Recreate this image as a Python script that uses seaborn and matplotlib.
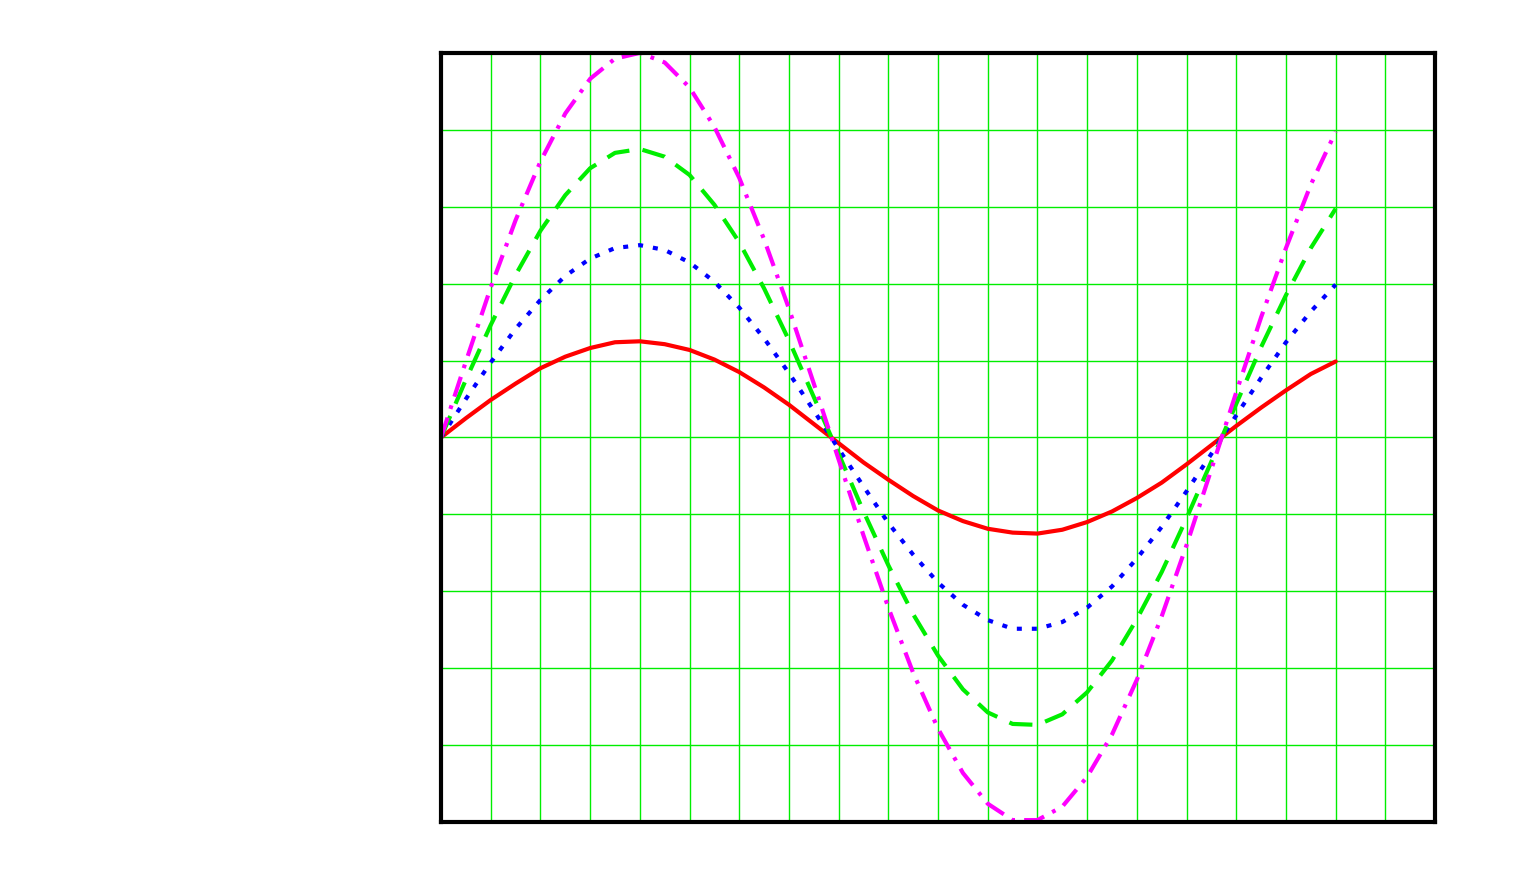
import pandas as pd
import matplotlib.pyplot as plt
import seaborn as sns

x = [0.0, 0.2, 0.4, 0.6, 0.8, 1.0, 1.2, 1.4, 1.6, 1.8, 2.0, 2.2, 2.4, 2.6,
     2.8, 3.0, 3.2, 3.4, 3.6, 3.8, 4.0, 4.2, 4.4, 4.6, 4.8, 5.0, 5.2, 5.4,
     5.6, 5.8, 6.0, 6.2, 6.4, 6.6, 6.8, 7.0, 7.2]
y1 = [0.00, 0.20, 0.39, 0.56, 0.72, 0.84, 0.93, 0.99, 1.00, 0.97, 0.91,
      0.81, 0.68, 0.52, 0.34, 0.14, -0.06, -0.26, -0.44, -0.61, -0.76,
      -0.87, -0.95, -0.99, -1.00, -0.96, -0.88, -0.77, -0.63, -0.47,
      -0.28, -0.08, 0.12, 0.31, 0.49, 0.66, 0.79]
y2 = [0.00, 0.40, 0.78, 1.13, 1.43, 1.68, 1.86, 1.97, 2.00, 1.95, 1.82,
      1.62, 1.35, 1.03, 0.67, 0.28, -0.12, -0.51, -0.89, -1.22, -1.51,
      -1.74, -1.90, -1.99, -1.99, -1.92, -1.77, -1.55, -1.26, -0.93,
      -0.56, -0.17, 0.23, 0.62, 0.99, 1.31, 1.59]
y3 = [0.00, 0.60, 1.17, 1.69, 2.15, 2.52, 2.80, 2.96, 3.00, 2.92, 2.73,
      2.42, 2.03, 1.55, 1.01, 0.42, -0.17, -0.77, -1.33, -1.84, -2.27,
      -2.62, -2.86, -2.98, -2.99, -2.88, -2.65, -2.32, -1.89, -1.40,
      -0.84, -0.25, 0.35, 0.94, 1.48, 1.97, 2.38]
y4 = [0.00, 0.79, 1.56, 2.26, 2.87, 3.37, 3.73, 3.94, 4.00, 3.90, 3.64,
      3.23, 2.70, 2.06, 1.34, 0.56, -0.23, -1.02, -1.77, -2.45, -3.03,
      -3.49, -3.81, -3.98, -3.98, -3.84, -3.53, -3.09, -2.52, -1.86,
      -1.12, -0.33, 0.47, 1.25, 1.97, 2.63, 3.18]

df = pd.DataFrame({'x': x, 'y1': y1, 'y2': y2, 'y3': y3, 'y4': y4})

sns.set_style("white")
fig = plt.figure(figsize=(15.13, 8.74), dpi=100)
ax = fig.add_axes([0.2915, 0.0595, 0.657, 0.88])

# grid every 0.4 on x, 0.8 on y, all bright green
ax.set_xticks([i * 0.4 for i in range(21)])
ax.set_yticks([-4 + i * 0.8 for i in range(11)])
ax.grid(True, color='#00ee00', linewidth=1.0)
ax.set_axisbelow(True)

lw = 3.0
sns.lineplot(data=df, x='x', y='y1', ax=ax, color='#ff0000', linewidth=lw)
sns.lineplot(data=df, x='x', y='y2', ax=ax, color='#0000ff', linewidth=lw,
             linestyle=(0, (1.2, 2.4)))
sns.lineplot(data=df, x='x', y='y3', ax=ax, color='#00ee00', linewidth=lw,
             linestyle=(0, (5.6, 3.2)))
sns.lineplot(data=df, x='x', y='y4', ax=ax, color='#ff00ff', linewidth=lw,
             linestyle=(0, (5, 2.2, 0.9, 2.2)))

ax.set_xlim(0, 8)
ax.set_ylim(-4, 4)
ax.set_xlabel('')
ax.set_ylabel('')
ax.tick_params(length=0, labelbottom=False, labelleft=False)
for s in ax.spines.values():
    s.set_visible(True)
    s.set_color('black')
    s.set_linewidth(3)

plt.savefig('out.png', dpi=100)
